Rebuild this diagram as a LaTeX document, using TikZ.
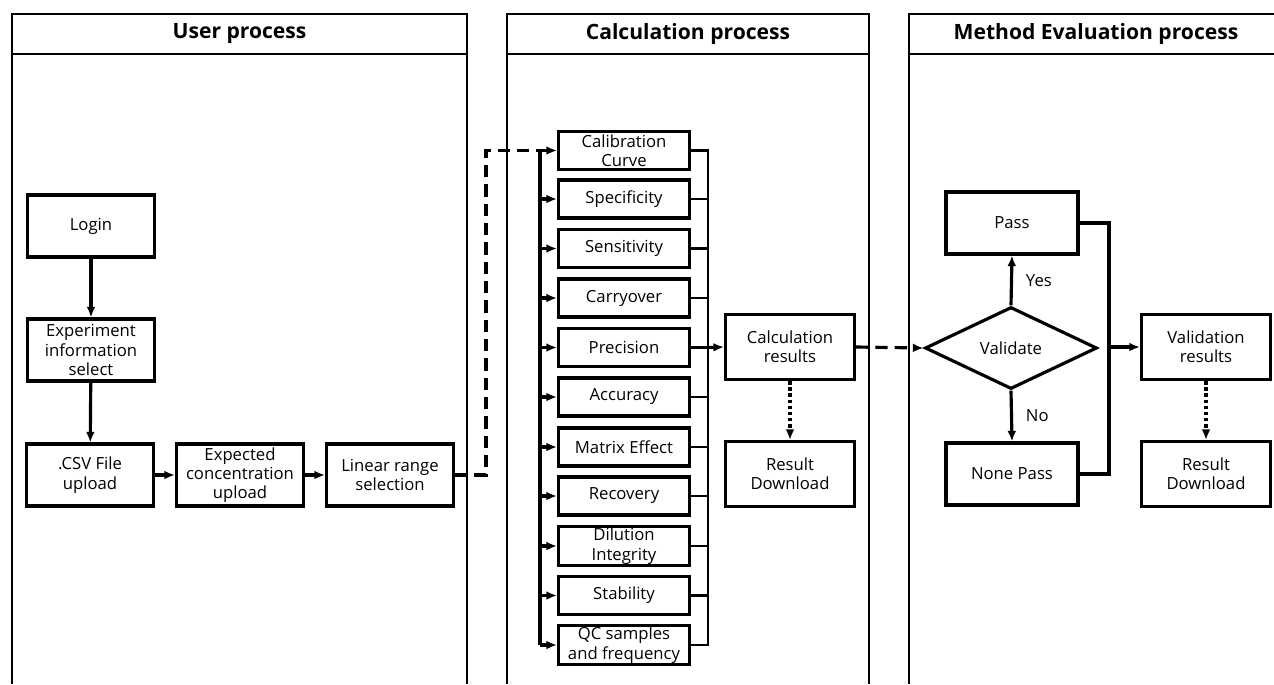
\documentclass[tikz,border=0pt]{standalone}
\usepackage{fontspec}
\setmainfont{Open Sans}
\usetikzlibrary{arrows.meta,shapes.geometric}
\begin{document}
\begin{tikzpicture}[x=0.02cm,y=-0.02cm,
  >={Latex[length=6pt,width=5pt]},
  box/.style={draw,line width=1.8pt,align=center,inner sep=1pt,
    font=\fontsize{9.5}{11}\selectfont},
  ubox/.style={box,minimum width=2.54cm,minimum height=1.24cm},
  cbox/.style={box,minimum width=2.62cm,minimum height=0.76cm},
  rbox/.style={box,minimum width=2.58cm,minimum height=1.3cm},
  title/.style={font=\fontsize{12}{14}\selectfont\bfseries},
  lane/.style={line width=1.4pt},
  flow/.style={line width=1.8pt,->},
  lbl/.style={font=\fontsize{9.5}{11}\selectfont}]
\useasboundingbox (0,0) rectangle (1274,684);
% lanes
\draw[lane] (12,684) -- (12,14) -- (467,14) -- (467,684);
\draw[lane] (12,54) -- (467,54);
\node[title] (tuser) at (239.5,34) {User process};
\draw[lane] (507,684) -- (507,14) -- (869,14) -- (869,684);
\draw[lane] (507,54) -- (869,54);
\node[title] (tcalc) at (688,34) {Calculation process};
\draw[lane] (909,684) -- (909,14) -- (1274,14);
\draw[lane] (909,54) -- (1274,54);
\node[title] (teval) at (1096,34) {Method Evaluation process};
% user process
\node[ubox] (login) at (91,226) {Login};
\node[ubox] (exp) at (91,350) {Experiment\\information\\select};
\node[ubox] (csv) at (90,475) {.CSV File\\upload};
\node[ubox] (conc) at (240,475) {Expected\\concentration\\upload};
\node[ubox] (lin) at (390,475) {Linear range\\selection};
\draw[flow] (login) -- (exp);
\draw[flow] (exp) -- (csv);
\draw[flow] (csv) -- (conc);
\draw[flow] (conc) -- (lin);
% calculation process
\node[cbox] (cal) at (624,150.5) {Calibration\\Curve};
\node[cbox] (spe) at (624,199) {Specificity};
\node[cbox] (sen) at (624,248.5) {Sensitivity};
\node[cbox] (car) at (624,298) {Carryover};
\node[cbox] (pre) at (624,347.5) {Precision};
\node[cbox] (acc) at (624,397) {Accuracy};
\node[cbox] (mat) at (624,447) {Matrix Effect};
\node[cbox] (rec) at (624,496) {Recovery};
\node[cbox] (dil) at (624,546) {Dilution\\Integrity};
\node[cbox] (sta) at (624,595.5) {Stability};
\node[cbox] (qc) at (624,645) {QC samples\\and frequency};
\coordinate (dj) at (486,150.5);
\coordinate (lb) at (540,150.5);
\coordinate (rb) at (708,150.5);
\draw[flow,dash pattern=on 7pt off 4pt] (lin.east) -| (dj) -- (cal.west);
\draw[line width=2.8pt] (lb) -- (sta.west -| lb);
\draw[line width=1.8pt] (sta.west -| lb) |- (qc.west -| lb);
\draw[flow] (spe.west -| lb) -- (spe.west);
\draw[flow] (sen.west -| lb) -- (sen.west);
\draw[flow] (car.west -| lb) -- (car.west);
\draw[flow] (pre.west -| lb) -- (pre.west);
\draw[flow] (acc.west -| lb) -- (acc.west);
\draw[flow] (mat.west -| lb) -- (mat.west);
\draw[flow] (rec.west -| lb) -- (rec.west);
\draw[flow] (dil.west -| lb) -- (dil.west);
\draw[flow] (sta.west -| lb) -- (sta.west);
\draw[flow] (qc.west -| lb) -- (qc.west);
\draw[lane] (cal.east) -| (rb) -- (qc.east -| rb) -- (qc.east);
\draw[lane] (spe.east) -- (spe.east -| rb);
\draw[lane] (sen.east) -- (sen.east -| rb);
\draw[lane] (car.east) -- (car.east -| rb);
\draw[lane] (pre.east) -- (pre.east -| rb);
\draw[lane] (acc.east) -- (acc.east -| rb);
\draw[lane] (mat.east) -- (mat.east -| rb);
\draw[lane] (rec.east) -- (rec.east -| rb);
\draw[lane] (dil.east) -- (dil.east -| rb);
\draw[lane] (sta.east) -- (sta.east -| rb);
\node[rbox] (cres) at (790,347) {Calculation\\results};
\node[rbox] (cdown) at (790,474) {Result\\Download};
\draw[flow] (pre.east -| rb) -- (cres.west);
\draw[flow,dash pattern=on 2pt off 1.5pt] (cres) -- (cdown);
% method evaluation
\node[box,diamond,minimum width=3.44cm,minimum height=1.64cm,inner sep=0pt] (val) at (1011,348) {Validate};
\node[ubox,minimum width=2.64cm] (pass) at (1012,223) {Pass};
\node[ubox,minimum width=2.64cm] (npass) at (1012,474) {None Pass};
\node[rbox] (vres) at (1206,347) {Validation\\results};
\node[rbox] (vdown) at (1206,474) {Result\\Download};
\coordinate (mb) at (1109,347);
\draw[flow,dash pattern=on 7pt off 4pt] (cres.east) -- (val.west);
\draw[flow] (val.north) -- (pass.south) node[lbl,midway,right=4pt] (yes) {Yes};
\draw[flow] (val.south) -- (npass.north) node[lbl,midway,right=4pt] (no) {No};
\draw[lane,line width=1.8pt] (pass.east) -| (mb) |- (npass.east);
\draw[flow] (mb) -- (vres.west);
\draw[flow,dash pattern=on 2pt off 1.5pt] (vres) -- (vdown);
\end{tikzpicture}
\end{document}
